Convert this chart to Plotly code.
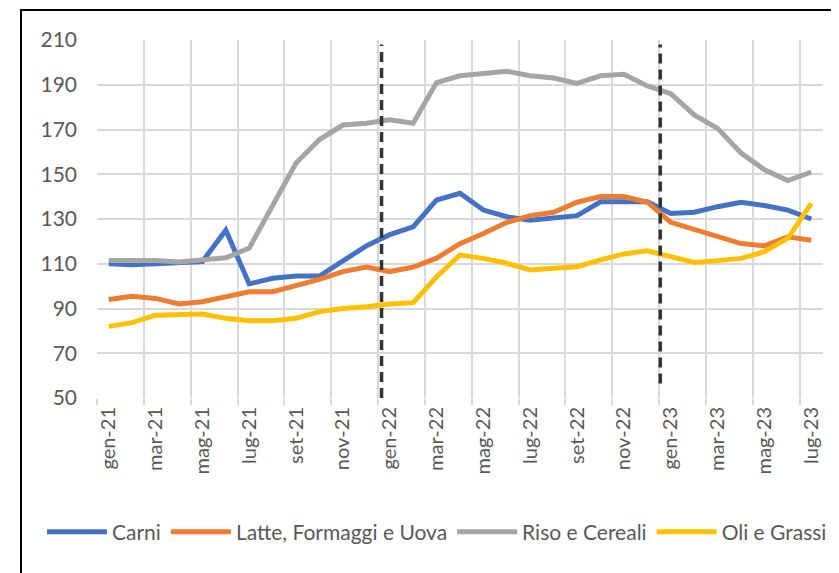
import plotly.graph_objects as go

months = ["gen-21","feb-21","mar-21","apr-21","mag-21","giu-21","lug-21","ago-21","set-21","ott-21","nov-21","dic-21",
          "gen-22","feb-22","mar-22","apr-22","mag-22","giu-22","lug-22","ago-22","set-22","ott-22","nov-22","dic-22",
          "gen-23","feb-23","mar-23","apr-23","mag-23","giu-23","lug-23"]

carni = [110, 109.5, 110, 110.5, 111, 125, 101, 103.5, 104.5, 104.5, 111, 118, 123, 126.5, 138.5, 141.5, 134, 131,
         129.5, 130.5, 131.5, 137.7, 137.7, 137.7, 132.5, 133, 135.5, 137.5, 136, 134, 130]
latte = [94, 95.5, 94.5, 92, 93, 95.5, 97.5, 97.5, 100, 103, 106.5, 108.5, 106.5, 108.5, 112.5, 119, 123.5, 128.5,
         131.5, 133, 137.5, 140, 140, 137.5, 128.5, 125.5, 122, 119, 118, 122, 120.5]
riso = [111.5, 111.5, 111.5, 110.8, 111.7, 112.7, 117, 136, 155, 165.5, 172, 172.8, 174.3, 172.8, 191, 194, 195, 196,
        194, 193, 190.6, 194, 194.7, 189.5, 186, 176.5, 170.5, 159.5, 152, 147.2, 151]
oli = [82, 83.7, 87, 87, 87.5, 85.6, 84.5, 84.5, 85.6, 88.6, 90, 90.8, 92, 92.6, 104.2, 113.9, 112.4, 110.2, 107.2,
       108, 108.7, 111.7, 114.4, 115.8, 113.2, 110.6, 111.4, 112.4, 115.4, 121.4, 137]

series_names = ["Carni", "Latte, Formaggi e Uova", "Riso e Cereali", "Oli e Grassi"]
series_values = [carni, latte, riso, oli]
colors = ["#4472C4", "#ED7D31", "#A5A5A5", "#FFC000"]

# vertical reference lines (position in month index, y-span)
ref_lines = [(11.65, 50, 208), (23.55, 56.5, 208)]

FONT = "Lato"
x = list(range(len(months)))

# page has an 8px body margin: figure is drawn from (8, 8)
W, H = 831, 565
ML, MT, MR, MB = 89, 32, 16, 175
PW, PH = W - ML - MR, H - MT - MB

fig = go.Figure()
for name, vals, col in zip(series_names, series_values, colors):
    fig.add_trace(go.Scatter(x=x, y=vals, name=name, mode="lines",
                             line=dict(color=col, width=5)))

for xv, y0, y1 in ref_lines:
    fig.add_shape(type="line", xref="x", yref="y", x0=xv, x1=xv, y0=y0, y1=y1,
                  line=dict(color="#333333", width=3.5, dash="10px,6px"), layer="above")

# outer chart border
fig.add_shape(type="rect", xref="paper", yref="paper",
              x0=(13 - ML) / PW, x1=1.2, y0=-0.8, y1=(PH + MT - 2) / PH,
              line=dict(color="black", width=2), fillcolor="rgba(0,0,0,0)", layer="below")

fig.update_layout(
    width=W, height=H,
    margin=dict(l=ML, r=MR, t=MT, b=MB),
    paper_bgcolor="white", plot_bgcolor="white",
    font=dict(family=FONT, size=20, color="#595959"),
    showlegend=True,
    legend=dict(orientation="h", x=(34 - ML) / PW, xanchor="left", y=-(524 - 390) / PH, yanchor="middle",
                font=dict(family=FONT, size=21, color="#595959"), itemwidth=60,
                traceorder="normal", bgcolor="rgba(0,0,0,0)"),
    xaxis=dict(range=[-0.5, 30.5], tickmode="array", tickvals=x[::2], ticktext=months[::2],
               tickangle=-90, showgrid=False, zeroline=False, showline=False, ticks="",
               tickfont=dict(family=FONT, size=20, color="#595959"),
               minor=dict(tick0=-0.5, dtick=2, showgrid=True, gridcolor="#D9D9D9", gridwidth=2,
                          ticks="outside", ticklen=6, tickcolor="#D9D9D9", tickwidth=2),
               ticklabelstandoff=4),
    yaxis=dict(range=[50, 210], dtick=20, tick0=50, showgrid=True, gridcolor="#D9D9D9", gridwidth=2,
               zeroline=False, showline=False, ticks="",
               tickfont=dict(family=FONT, size=21, color="#595959"), ticklabelstandoff=19),
)

fig.write_html("out.html")
